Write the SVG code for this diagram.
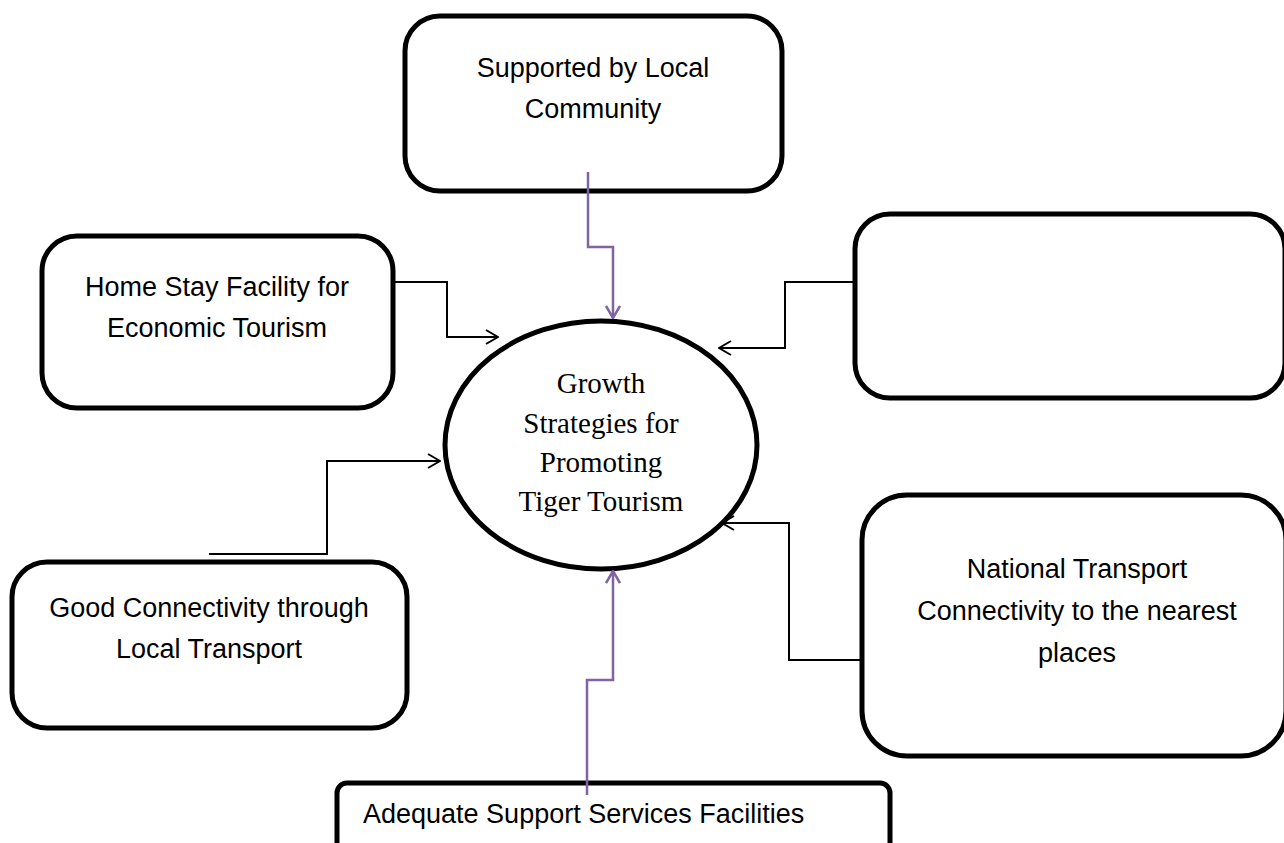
<svg xmlns="http://www.w3.org/2000/svg" width="1284" height="843" viewBox="0 0 1284 843">
<defs>
<style>
.box{fill:#fff;stroke:#000;stroke-width:5}
.t{font-family:"Liberation Sans",Arial,sans-serif;font-size:27px;fill:#000;text-anchor:middle}
.c{font-family:"Liberation Serif","Times New Roman",serif;font-size:29px;fill:#000;text-anchor:middle}
.k{fill:none;stroke:#000;stroke-width:2}
.p{fill:none;stroke:#8064A2;stroke-width:2.5}
</style>
<marker id="ak" viewBox="0 0 14 16" refX="13" refY="8" markerWidth="14" markerHeight="16" markerUnits="userSpaceOnUse" orient="auto"><path d="M1,1 L13,8 L1,15" fill="none" stroke="#000" stroke-width="2"/></marker>
<marker id="ap" viewBox="0 0 14 16" refX="13" refY="8" markerWidth="14" markerHeight="16" markerUnits="userSpaceOnUse" orient="auto"><path d="M1,1 L13,8 L1,15" fill="none" stroke="#8064A2" stroke-width="2.5"/></marker>
</defs>
<rect width="1284" height="843" fill="#fff"/>
<g id="n-top"><rect class="box" x="405" y="16" width="377" height="175" rx="35"/><text class="t" x="593" y="77">Supported by Local</text><text class="t" x="593" y="118">Community</text></g>
<g id="n-home"><rect class="box" x="42" y="236" width="351" height="172" rx="35"/><text class="t" x="217" y="296">Home Stay Facility for</text><text class="t" x="217" y="337">Economic Tourism</text></g>
<g id="n-right"><rect class="box" x="855" y="214" width="430" height="184" rx="35"/></g>
<g id="n-good"><rect class="box" x="12" y="562" width="395" height="166" rx="35"/><text class="t" x="209" y="617">Good Connectivity through</text><text class="t" x="209" y="658">Local Transport</text></g>
<g id="n-nat"><rect class="box" x="862" y="495" width="424" height="261" rx="45"/><text class="t" x="1077" y="578">National Transport</text><text class="t" x="1077" y="620">Connectivity to the nearest</text><text class="t" x="1077" y="662">places</text></g>
<g id="n-adeq"><rect class="box" x="337" y="783" width="553" height="80" rx="10"/><text class="t" x="363" y="823" style="text-anchor:start">Adequate Support Services Facilities</text></g>
<g id="n-center"><ellipse cx="601" cy="445" rx="156" ry="124" fill="#fff" stroke="#000" stroke-width="5"/><text class="c" x="601" y="393">Growth</text><text class="c" x="601" y="433">Strategies for</text><text class="c" x="601" y="472">Promoting</text><text class="c" x="601" y="511">Tiger Tourism</text></g>
<g id="connectors">
<path class="p" d="M588,172 V247 H613 V318" marker-end="url(#ap)"/>
<path class="k" d="M393,282 H447 V337 H498" marker-end="url(#ak)"/>
<path class="k" d="M855,282 H785 V348 H719" marker-end="url(#ak)"/>
<path class="k" d="M209,554 H327 V461 H440" marker-end="url(#ak)"/>
<path class="k" d="M862,660 H789 V523 H722" marker-end="url(#ak)"/>
<path class="p" d="M587,795 V680 H613 V571" marker-end="url(#ap)"/>
</g>
</svg>
